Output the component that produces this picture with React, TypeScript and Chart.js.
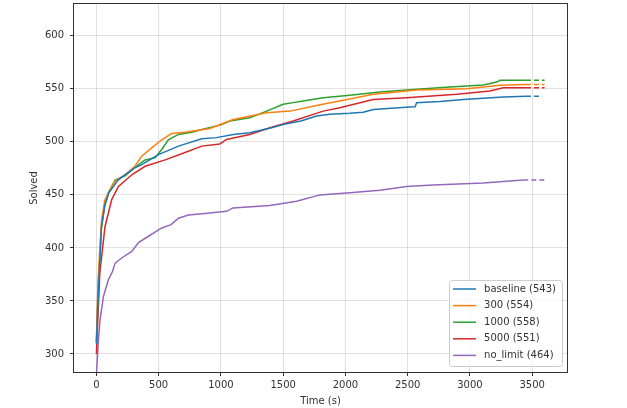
import { useEffect, useRef } from 'react';
import { Chart, registerables } from 'chart.js';

Chart.register(...registerables);

const seriesNames = ['baseline (543)', '300 (554)', '1000 (558)', '5000 (551)', 'no_limit (464)'];
const seriesColors = ['#1f77b4', '#ff7f0e', '#2ca02c', '#d62728', '#9467bd'];

const baselineT = [0, 13, 40, 67, 100, 174, 300, 364, 498, 659, 846, 964, 1100, 1232, 1400, 1500, 1650, 1768, 1875, 2036, 2143, 2223, 2518, 2560, 2572, 2760, 2947, 3268, 3450, 3580];
const baselineV = [310, 351, 418, 440, 452, 464, 475, 478.6, 488, 496, 503, 504, 507, 508.6, 513, 516.4, 520, 524.3, 526, 527, 528, 530.6, 532.8, 533, 537, 538, 540, 542.3, 543, 543];

const t300T = [0, 13, 40, 67, 96, 150, 230, 310, 364, 444, 525, 605, 712, 911, 1098, 1367, 1554, 1797, 1955, 2223, 2572, 2974, 3242, 3450, 3600];
const t300V = [312, 368, 425, 445, 452, 463, 469, 477, 486.5, 494.4, 502, 508, 509, 512.7, 521, 527.4, 529, 535, 538.5, 544.8, 549, 550.2, 553.3, 554, 554];

const t1000T = [0, 13, 40, 67, 96, 150, 230, 310, 391, 471, 525, 578, 659, 766, 846, 1000, 1072, 1232, 1367, 1500, 1580, 1661, 1822, 2036, 2277, 2572, 2840, 3108, 3215, 3242, 3450, 3600];
const t1000V = [310, 360, 420, 440, 452, 464, 468, 476, 483, 485, 492.8, 502, 507, 509, 511.7, 516, 519.6, 522.8, 529, 535.4, 537, 538.5, 541.7, 543.9, 547, 549.5, 551.7, 553.6, 556.4, 558, 558, 558];

const t5000T = [0, 27, 69, 123, 177, 284, 391, 552, 712, 846, 991, 1045, 1232, 1393, 1580, 1822, 1955, 2223, 2492, 2894, 3162, 3268, 3450, 3600];
const t5000V = [300, 376, 420, 445.6, 458, 469, 477, 483, 490, 496, 498, 502.3, 507, 513.3, 519.6, 529, 532.2, 540, 541.7, 544.8, 548, 551, 551, 551];

const noLimitT = [0, 2, 16, 29, 56, 96, 130, 150, 203, 284, 338, 418, 525, 600, 659, 740, 870, 1045, 1096, 1393, 1608, 1795, 2036, 2277, 2492, 2706, 3108, 3429, 3600];
const noLimitV = [278, 285, 313, 332, 354, 370, 378, 385.7, 390.5, 396.7, 405, 411, 418.8, 422, 428, 431, 432.5, 434.5, 437.7, 440, 444, 450, 452, 454.4, 458, 459.4, 461.3, 464, 464];

const seriesT = [baselineT, t300T, t1000T, t5000T, noLimitT];
const seriesV = [baselineV, t300V, t1000V, t5000V, noLimitV];

const xTicks = [0, 500, 1000, 1500, 2000, 2500, 3000, 3500];
const yTicks = [300, 350, 400, 450, 500, 550, 600];
const xLimits = [-180, 3780];
const yLimits = [283, 630];

const FONT = '"DejaVu Sans", sans-serif';
const TEXT = '#333333';

const framePlugin = {
  id: 'frame',
  afterDatasetsDraw(chart: any) {
    const { ctx, chartArea } = chart;
    const l = Math.round(chartArea.left) - 0.5;
    const t = Math.round(chartArea.top) - 0.5;
    const r = Math.round(chartArea.right) + 0.5;
    const b = Math.round(chartArea.bottom) + 0.5;
    ctx.save();
    ctx.strokeStyle = '#333333';
    ctx.lineWidth = 1;
    ctx.strokeRect(l, t, r - l, b - t);
    ctx.restore();
  },
};

const legendPlugin = {
  id: 'mplLegend',
  afterDraw(chart: any) {
    const { ctx, chartArea } = chart;
    ctx.save();
    ctx.font = '10px ' + FONT;
    const maxW = Math.max(...seriesNames.map((n) => ctx.measureText(n).width));
    const rowH = 16.6;
    const boxW = 35 + maxW + 6;
    const boxH = 9 + rowH * (seriesNames.length - 1) + 10.6;
    const bx = chartArea.right - 5 - boxW;
    const by = chartArea.bottom - 6 - boxH;
    ctx.beginPath();
    ctx.roundRect(Math.round(bx) + 0.5, Math.round(by) + 0.5, Math.round(boxW), Math.round(boxH), 3);
    ctx.fillStyle = 'rgba(255,255,255,0.8)';
    ctx.fill();
    ctx.strokeStyle = '#cccccc';
    ctx.lineWidth = 1;
    ctx.stroke();
    seriesNames.forEach((name, i) => {
      const y = by + 9 + i * rowH;
      ctx.beginPath();
      ctx.strokeStyle = seriesColors[i];
      ctx.lineWidth = 1.5;
      ctx.moveTo(bx + 4, y);
      ctx.lineTo(bx + 27, y);
      ctx.stroke();
      ctx.fillStyle = TEXT;
      ctx.textBaseline = 'middle';
      ctx.textAlign = 'left';
      ctx.fillText(name, bx + 35, y);
    });
    ctx.restore();
  },
};

export default function App() {
  const ref = useRef<HTMLCanvasElement>(null);
  useEffect(() => {
    if (!ref.current) return;
    const datasets = seriesNames.map((name, i) => {
      const T = seriesT[i];
      const V = seriesV[i];
      const last = T.length - 1;
      return {
        label: name,
        data: T.map((t, j) => ({ x: t, y: V[j] })),
        borderColor: seriesColors[i],
        backgroundColor: seriesColors[i],
        borderWidth: 1.5,
        pointRadius: 0,
        tension: 0,
        fill: false,
        segment: {
          borderDash: (c: any) => (c.p1DataIndex === last ? [5, 3] : undefined),
        },
      };
    });
    const chart = new Chart(ref.current, {
      type: 'line',
      data: { datasets },
      plugins: [framePlugin, legendPlugin],
      options: {
        responsive: false,
        animation: false,
        devicePixelRatio: 1,
        layout: { padding: { top: 4, right: 60, left: 0, bottom: 0 } },
        plugins: { legend: { display: false }, tooltip: { enabled: false } },
        scales: {
          x: {
            type: 'linear',
            min: xLimits[0],
            max: xLimits[1],
            afterBuildTicks: (s: any) => {
              s.ticks = xTicks.map((v) => ({ value: v }));
            },
            afterFit: (s: any) => {
              s.height = 36;
              s.paddingLeft = 0;
              s.paddingRight = 0;
            },
            ticks: {
              callback: (v: any) => String(v),
              color: TEXT,
              font: { family: FONT, size: 10 },
              padding: 3,
              maxRotation: 0,
              autoSkip: false,
            },
            grid: {
              color: 'rgba(176,176,176,0.38)',
              lineWidth: 1,
              tickColor: '#333333',
              tickLength: 4,
              tickWidth: 1,
            },
            border: { display: false },
            title: {
              display: true,
              text: 'Time (s)',
              color: TEXT,
              font: { family: FONT, size: 10 },
              padding: { top: 0, bottom: 1 },
            },
          },
          y: {
            type: 'linear',
            min: yLimits[0],
            max: yLimits[1],
            afterBuildTicks: (s: any) => {
              s.ticks = yTicks.map((v) => ({ value: v }));
            },
            afterFit: (s: any) => {
              s.width = 74;
              s.paddingTop = 0;
              s.paddingBottom = 0;
            },
            ticks: {
              callback: (v: any) => String(v),
              color: TEXT,
              font: { family: FONT, size: 10 },
              padding: 6,
              autoSkip: false,
            },
            grid: {
              color: 'rgba(176,176,176,0.38)',
              lineWidth: 1,
              tickColor: '#333333',
              tickLength: 4,
              tickWidth: 1,
            },
            border: { display: false },
            title: {
              display: true,
              text: 'Solved',
              color: TEXT,
              font: { family: FONT, size: 10 },
              padding: { top: 28, bottom: 0 },
            },
          },
        },
      },
    } as any);
    return () => chart.destroy();
  }, []);
  return (
    <div style={{ position: 'absolute', left: 0, top: 0, width: 627, height: 408, background: '#fff' }}>
      <canvas ref={ref} width={627} height={408} />
    </div>
  );
}
